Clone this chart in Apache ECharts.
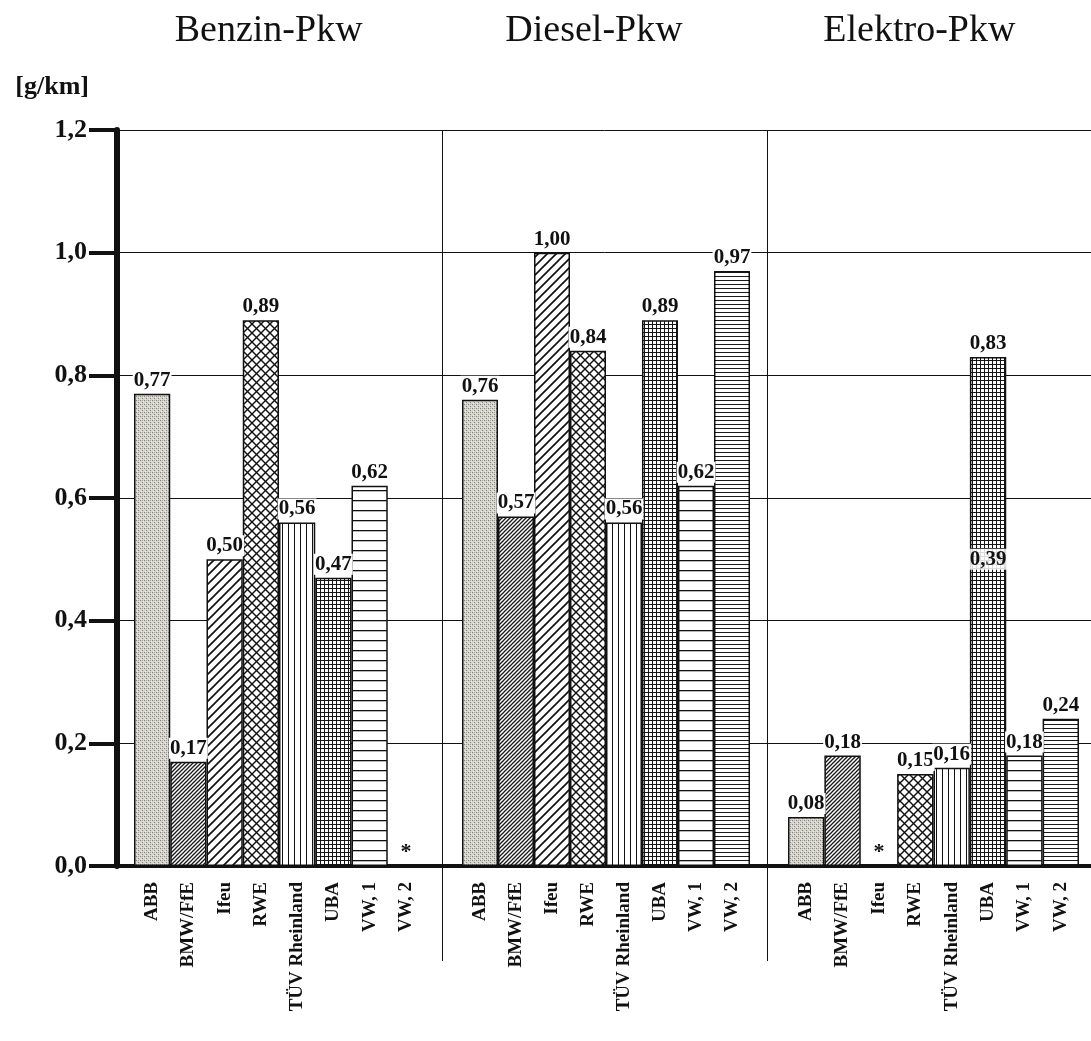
<!DOCTYPE html>
<html>
<head>
<meta charset="utf-8">
<style>
  html, body { margin: 0; padding: 0; background: #fff; }
  #chart { width: 1091px; height: 1041px; }
</style>
<script src="https://cdn.jsdelivr.net/npm/echarts@6/dist/echarts.min.js"></script>
</head>
<body>
<div id="chart"></div>
<script>
// Emissions per vehicle type and study [g/km]
const groups = ['Benzin-Pkw', 'Diesel-Pkw', 'Elektro-Pkw'];
const studies = ['ABB', 'BMW/FfE', 'Ifeu', 'RWE', 'TÜV Rheinland', 'UBA', 'VW, 1', 'VW, 2'];
const benzin = [0.77, 0.17, 0.50, 0.89, 0.56, 0.47, 0.62, null];
const diesel = [0.76, 0.57, 1.00, 0.84, 0.56, 0.89, 0.62, 0.97];
const elektro = [0.08, 0.18, null, 0.15, 0.16, 0.83, 0.18, 0.24];
// second figure printed inside the UBA electric bar
const elektroUbaNote = { label: '0,39', study: 'UBA', at: 0.50 };
const yTicks = [0, 0.2, 0.4, 0.6, 0.8, 1.0, 1.2];

const SERIF = '"Liberation Serif", "DejaVu Serif", serif';
const INK = '#111';
const fmt = v => v.toFixed(2).replace('.', ',');

// --- hatch patterns, one per study ---
function tile(size, bg, draw) {
  const c = document.createElement('canvas');
  c.width = size; c.height = size;
  const g = c.getContext('2d');
  g.fillStyle = bg; g.fillRect(0, 0, size, size);
  draw(g, size);
  return { image: c, repeat: 'repeat' };
}
function slash(g, s) { // "/" lines, seamless
  [[0, s, s, 0], [-1, 1, 1, -1], [s - 1, s + 1, s + 1, s - 1]].forEach(l => {
    g.beginPath(); g.moveTo(l[0], l[1]); g.lineTo(l[2], l[3]); g.stroke();
  });
}
function backslash(g, s) { // "\" lines, seamless
  [[0, 0, s, s], [-1, s - 1, 1, s + 1], [s - 1, -1, s + 1, 1]].forEach(l => {
    g.beginPath(); g.moveTo(l[0], l[1]); g.lineTo(l[2], l[3]); g.stroke();
  });
}
const patterns = [
  // ABB: grey stipple
  tile(4, '#d4d4cc', (g) => {
    g.fillStyle = '#85857f'; g.fillRect(0, 0, 1, 1); g.fillRect(2, 2, 1, 1);
    g.fillStyle = '#a9a9a2'; g.fillRect(2, 0, 1, 1);
    g.fillStyle = '#ecece6'; g.fillRect(1, 3, 1, 1); g.fillRect(3, 1, 1, 1);
  }),
  // BMW/FfE: dense diagonal hatch
  tile(4, '#ffffff', (g, s) => { g.strokeStyle = '#1a1a1a'; g.lineWidth = 1.3; slash(g, s); }),
  // Ifeu: wide diagonal hatch
  tile(9, '#ffffff', (g, s) => { g.strokeStyle = '#111'; g.lineWidth = 1.7; slash(g, s); }),
  // RWE: diagonal cross hatch
  tile(9, '#ffffff', (g, s) => { g.strokeStyle = '#111'; g.lineWidth = 1.4; slash(g, s); backslash(g, s); }),
  // TÜV Rheinland: vertical lines
  tile(6, '#ffffff', (g, s) => { g.fillStyle = '#111'; g.fillRect(0, 0, 1, s); }),
  // UBA: fine square grid
  tile(4, '#ffffff', (g, s) => { g.fillStyle = '#151515'; g.fillRect(0, 0, 1, s); g.fillRect(0, 0, s, 1); }),
  // VW, 1: wide horizontal lines
  tile(10, '#ffffff', (g, s) => { g.fillStyle = '#111'; g.fillRect(0, 0, s, 1.3); }),
  // VW, 2: dense horizontal lines
  tile(4, '#ffffff', (g, s) => { g.fillStyle = '#1a1a1a'; g.fillRect(0, 0, s, 1); })
];

function barData(values) {
  return values.map((v, i) => v === null
    ? { value: 0, itemStyle: { color: 'rgba(0,0,0,0)', borderWidth: 0 },
        label: { formatter: '*', backgroundColor: 'rgba(0,0,0,0)', fontSize: 22 } }
    : { value: v, itemStyle: { color: patterns[i] } });
}

// plot frame (pixels)
const TOP = 130, BOTTOM = 175;
const dataGrids = [
  { left: 134, width: 290 },
  { left: 462, width: 288 },
  { left: 788, width: 291 }
];
const seriesValues = [benzin, diesel, elektro];

const grid = [{ left: 117, right: -2, top: TOP, bottom: BOTTOM, containLabel: false, outerBoundsMode: 'none' }]
  .concat(dataGrids.map(d => ({ left: d.left, width: d.width, top: TOP, bottom: BOTTOM, containLabel: false, outerBoundsMode: 'none' })));

const skipFirst = (idx) => idx !== 0;

const xAxis = [
  { // frame axis: baseline + group separators
    gridIndex: 0, type: 'category', data: groups.map(() => ''), position: 'bottom',
    axisLine: { show: true, lineStyle: { color: INK, width: 4 } },
    axisTick: { show: true, interval: skipFirst, length: 95, lineStyle: { color: INK, width: 1 } },
    axisLabel: { show: false },
    splitLine: { show: true, interval: skipFirst, lineStyle: { color: INK, width: 1 } }
  },
  { // group titles
    gridIndex: 0, type: 'category', data: groups, position: 'top',
    axisLine: { show: false }, axisTick: { show: false }, splitLine: { show: false },
    axisLabel: { show: true, margin: 80, color: INK, fontFamily: SERIF, fontSize: 38, fontWeight: 'normal',
                 padding: [0, 22, 0, 0] }
  }
].concat(dataGrids.map((d, k) => ({
  gridIndex: k + 1, type: 'category', data: studies,
  axisLine: { show: false }, axisTick: { show: false }, splitLine: { show: false },
  axisLabel: { show: true, interval: 0, rotate: 90, margin: 16, color: INK,
               fontFamily: SERIF, fontWeight: 'bold', fontSize: 19 }
})));

const yAxis = [{
  gridIndex: 0, type: 'value', min: yTicks[0], max: yTicks[yTicks.length - 1], interval: 0.2,
  name: '[g/km]', nameLocation: 'end', nameGap: 30,
  nameTextStyle: { color: INK, fontFamily: SERIF, fontWeight: 'bold', fontSize: 26, align: 'right', padding: [0, 28, 0, 0] },
  axisLine: { show: true, lineStyle: { color: INK, width: 6 } },
  axisTick: { show: true, length: 28, lineStyle: { color: INK, width: 4 } },
  axisLabel: { show: true, margin: 30, color: INK, fontFamily: SERIF, fontWeight: 'bold', fontSize: 26,
               formatter: v => v.toFixed(1).replace('.', ',') },
  splitLine: { show: true, lineStyle: { color: INK, width: 1 } }
}].concat(dataGrids.map((d, k) => ({
  gridIndex: k + 1, type: 'value', min: yTicks[0], max: yTicks[yTicks.length - 1], show: false,
  splitLine: { show: false }
})));

const series = seriesValues.map((vals, k) => ({
  type: 'bar', name: groups[k], xAxisIndex: k + 2, yAxisIndex: k + 1,
  barCategoryGap: '0%', barGap: '0%',
  data: barData(vals),
  itemStyle: { borderColor: INK, borderWidth: 1.5 },
  label: {
    show: true, position: 'top', distance: 3, color: INK,
    fontFamily: SERIF, fontWeight: 'bold', fontSize: 21,
    backgroundColor: '#fff', padding: [0, 1],
    formatter: p => fmt(p.value)
  },
  emphasis: { disabled: true },
  animation: false
}));

// printed note inside the UBA electric bar
series[2].markPoint = {
  symbol: 'rect', symbolSize: 0, silent: true, animation: false,
  label: { show: true, position: 'inside', color: INK, fontFamily: SERIF, fontWeight: 'bold', fontSize: 21,
           backgroundColor: 'rgba(255,255,255,0.85)', padding: [0, 1], formatter: elektroUbaNote.label },
  data: [{ coord: [elektroUbaNote.study, elektroUbaNote.at] }]
};

const chart = echarts.init(document.getElementById('chart'), null, { renderer: 'canvas' });
chart.setOption({
  backgroundColor: '#ffffff',
  animation: false,
  grid, xAxis, yAxis, series
});
</script>
</body>
</html>
